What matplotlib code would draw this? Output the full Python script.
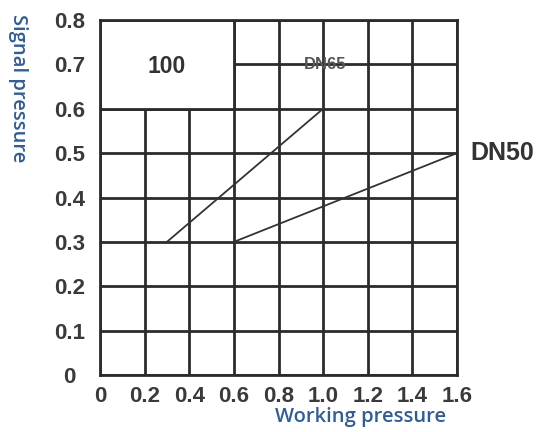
import matplotlib
matplotlib.use("Agg")
import matplotlib.pyplot as plt
from matplotlib.patches import Rectangle

# Data
x_ticks = [0, 0.2, 0.4, 0.6, 0.8, 1.0, 1.2, 1.4, 1.6]
x_labels = ["0", "0.2", "0.4", "0.6", "0.8", "1.0", "1.2", "1.4", "1.6"]
y_ticks = [0, 0.1, 0.2, 0.3, 0.4, 0.5, 0.6, 0.7, 0.8]
y_labels = ["0", "0.1", "0.2", "0.3", "0.4", "0.5", "0.6", "0.7", "0.8"]
dn65_x = [0.3, 1.0]
dn65_y = [0.3, 0.6]
dn50_x = [0.6, 1.6]
dn50_y = [0.3, 0.5]
box_x = [0.0, 0.6]
box_y = [0.6, 0.8]

fig = plt.figure(figsize=(5.43, 4.32), dpi=100)
ax = fig.add_axes([100/543, 1-375/432, 357/543, 355/432])
ax.set_xlim(0, 1.6)
ax.set_ylim(0, 0.8)

grid_c = "#2b2b2b"
for xv in x_ticks:
    ax.axvline(xv, color=grid_c, lw=2.0, zorder=1)
for yv in y_ticks:
    ax.axhline(yv, color=grid_c, lw=2.0, zorder=1)

ax.add_patch(Rectangle((box_x[0], box_y[0]), box_x[1]-box_x[0], box_y[1]-box_y[0],
                       facecolor="white", edgecolor=grid_c, lw=2.0, zorder=2))
ax.text(0.30, 0.695, "100", ha="center", va="center", fontsize=16.5,
        fontweight="bold", color="#333333", family="Liberation Sans", zorder=3)

ax.plot(dn65_x, dn65_y, color="#333333", lw=1.3, zorder=3)
ax.plot(dn50_x, dn50_y, color="#333333", lw=1.3, zorder=3)

ax.text(1.01, 0.7, "DN65", ha="center", va="center", fontsize=12,
        fontweight="bold", color="#555555", family="Liberation Sans", zorder=4)
ax.text(1.66, 0.5, "DN50", ha="left", va="center", fontsize=18,
        fontweight="bold", color="#333333", family="Liberation Sans",
        clip_on=False)

for s in ax.spines.values():
    s.set_linewidth(2.0)
    s.set_color(grid_c)
    s.set_zorder(5)

ax.set_xticks(x_ticks)
ax.set_xticklabels(x_labels)
ax.set_yticks(y_ticks)
ax.set_yticklabels(y_labels)
ax.tick_params(length=0)
ax.tick_params(axis="x", pad=8)
ax.tick_params(axis="y", pad=22)
for lab in ax.get_xticklabels() + ax.get_yticklabels():
    lab.set_fontfamily("Liberation Sans")
    lab.set_fontweight("bold")
    lab.set_fontsize(16)
    lab.set_color("#3a3a3a")
for lab in ax.get_yticklabels():
    lab.set_horizontalalignment("center")

blue = "#2f5d9b"
fig.text(18/543, 1-88/432, "Signal pressure", rotation=-90, ha="center", va="center",
         fontsize=14.5, color=blue, family="Open Sans", fontweight="semibold")
fig.text(361/543, 1-417/432, "Working pressure", ha="center", va="center",
         fontsize=14.5, color=blue, family="Open Sans", fontweight="semibold")

fig.savefig("out.png", dpi=100, facecolor="white")
